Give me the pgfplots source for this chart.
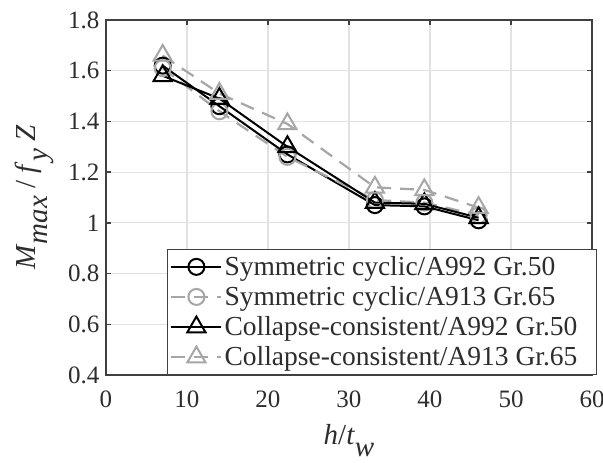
\documentclass[border=0pt]{standalone}
\usepackage{fontspec}
\setmainfont{Liberation Serif}
\usepackage{pgfplots}
\pgfplotsset{compat=1.18}
\definecolor{lgrey}{RGB}{166,166,166}
\definecolor{axgrey}{RGB}{64,64,64}
\definecolor{txgrey}{RGB}{45,45,45}
\definecolor{gridc}{RGB}{226,226,226}
\begin{document}
\begin{tikzpicture}
\useasboundingbox (-106pt,-88pt) rectangle (497pt,375pt);
\begin{axis}[
  at={(0pt,0pt)}, anchor=south west,
  scale only axis, width=486pt, height=355pt,
  xmin=0, xmax=60, ymin=0.4, ymax=1.8,
  xtick={0,10,...,60}, ytick={0.4,0.6,...,1.8},
  /pgf/number format/assume math mode=true,
  tick label style={font=\fontsize{25}{28}\selectfont, text=txgrey},
  yticklabel style={xshift=-3pt},
  xticklabel style={yshift=-12pt},
  tick align=inside, major tick length=5pt,
  tick style={axgrey, line width=1.5pt},
  axis line style={axgrey, line width=1.8pt},
  grid=major, major grid style={gridc, line width=1.2pt},
  xlabel={\textit{h}/\textit{t}\raisebox{-0.4em}{\textit{w}}},
  ylabel={\textit{M}\raisebox{-0.4em}{\textit{max}} / \textit{f}\raisebox{-0.4em}{\textit{y}} \textit{Z}},
  label style={font=\fontsize{29}{32}\selectfont, text=txgrey},
  xlabel style={at={(axis description cs:0.5,0)}, anchor=base, yshift=-70pt},
  ylabel style={at={(axis description cs:0,0.5)}, anchor=base, yshift=70pt},
  legend style={at={(1,0)}, anchor=south east, xshift=5pt, draw=axgrey, line width=1.2pt,
     font=\fontsize{27.5}{30}\selectfont, text=txgrey, inner xsep=3pt, inner ysep=5pt,
     row sep=5.5pt},
  legend cell align=left,
  legend image code/.code={\draw[mark repeat=2,mark phase=2] plot coordinates {(0pt,0pt)(25pt,0pt)(50pt,0pt)};},
]
\addplot[black, line width=2pt, mark=o, mark size=8pt, mark options={solid, line width=2pt}]
  coordinates {(7,1.62)(14,1.46)(22.4,1.27)(33.2,1.07)(39.3,1.065)(46,1.01)};
\addlegendentry{Symmetric cyclic/A992 Gr.50}
\addplot[lgrey, line width=2.2pt, dash pattern=on 14pt off 9pt, mark=o, mark size=8pt, mark options={solid, line width=2pt}]
  coordinates {(7,1.61)(14,1.44)(22.4,1.26)(33.2,1.09)(39.3,1.08)(46,1.03)};
\addlegendentry{Symmetric cyclic/A913 Gr.65}
\addplot[black, line width=2pt, mark=triangle, mark size=10.5pt, mark options={solid, line width=2pt}]
  coordinates {(7,1.58)(14,1.49)(22.4,1.30)(33.2,1.08)(39.3,1.075)(46,1.02)};
\addlegendentry{Collapse-consistent/A992 Gr.50}
\addplot[lgrey, line width=2.2pt, dash pattern=on 14pt off 9pt, mark=triangle, mark size=10.5pt, mark options={solid, line width=2pt}]
  coordinates {(7,1.66)(14,1.51)(22.4,1.39)(33.2,1.14)(39.3,1.13)(46,1.06)};
\addlegendentry{Collapse-consistent/A913 Gr.65\rule{14pt}{0pt}}
\end{axis}
\end{tikzpicture}
\end{document}
